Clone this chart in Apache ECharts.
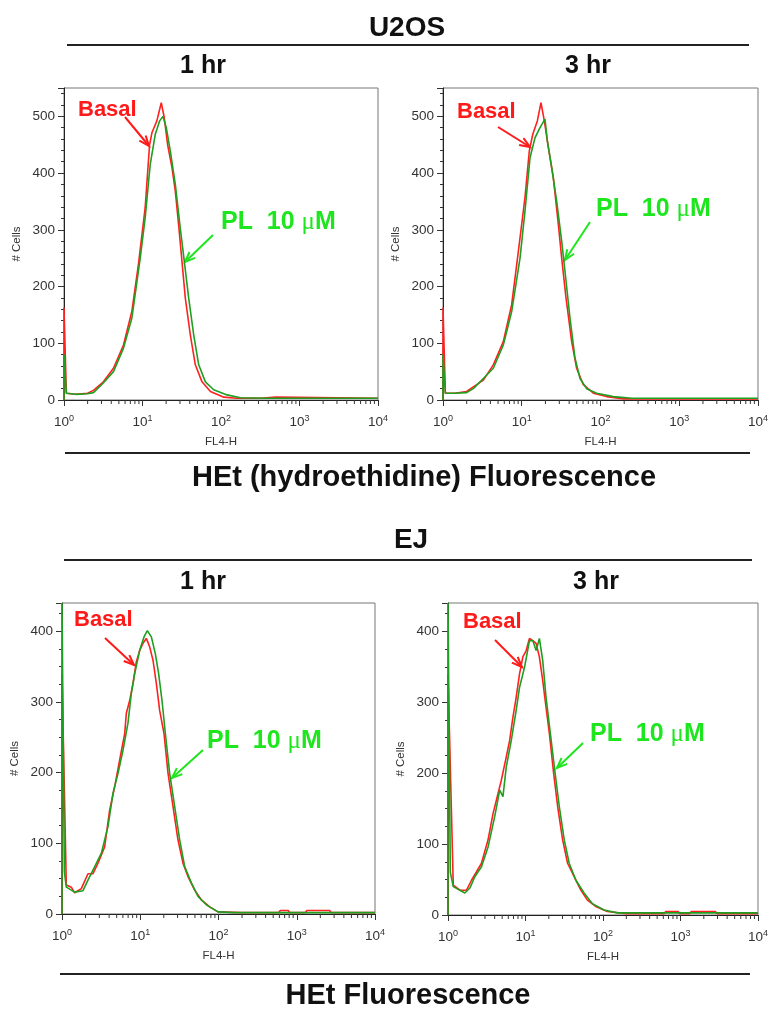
<!DOCTYPE html>
<html>
<head>
<meta charset="utf-8">
<title>HEt fluorescence</title>
<script src="https://cdn.jsdelivr.net/npm/echarts@6/dist/echarts.min.js"></script>
<style>
    html, body { margin: 0; padding: 0; background: #fff; }
    #chart { width: 771px; height: 1010px; }
</style>
</head>
<body>
<div id="chart"></div>
<script>
/* ========== 数据 (x = log10 FL4-H, 0..4 decades; y = # cells) ========== */

const xTickLabels = ["0", "1", "2", "3", "4"];

// U2OS 1 hr
const u2os1hBasalX = [0, 0, 0.03, 0.15, 0.3, 0.375, 0.502, 0.63, 0.758, 0.864, 0.949, 1.034, 1.09, 1.12, 1.183, 1.239, 1.277, 1.32, 1.375, 1.418, 1.46, 1.503, 1.545, 1.609, 1.673, 1.758, 1.865, 2.035, 2.2, 2.5, 2.52, 2.7, 2.72, 4];
const u2os1hBasalY = [0, 163, 12, 10, 12, 17, 32, 56, 97, 156, 240, 339, 450, 471, 492, 524, 498, 450, 410, 368, 309, 244, 180, 115, 62, 32, 15, 5, 3, 3, 5, 5, 3, 3];
const u2os1hPlX = [0, 0, 0.03, 0.15, 0.3, 0.375, 0.5, 0.63, 0.757, 0.864, 0.971, 1.034, 1.098, 1.162, 1.218, 1.26, 1.303, 1.354, 1.418, 1.481, 1.533, 1.588, 1.652, 1.716, 1.801, 1.907, 2.077, 2.248, 2.6, 4];
const u2os1hPlY = [0, 80, 12, 10, 11, 13, 30, 50, 91, 144, 250, 321, 415, 468, 492, 500, 480, 439, 380, 303, 244, 180, 115, 62, 32, 18, 9, 4, 3, 3];

// U2OS 3 hr
const u2os3hBasalX = [0, 0, 0.03, 0.15, 0.3, 0.385, 0.512, 0.639, 0.766, 0.872, 0.957, 1.041, 1.096, 1.139, 1.198, 1.244, 1.287, 1.338, 1.401, 1.465, 1.507, 1.562, 1.634, 1.697, 1.782, 1.909, 2.078, 2.3, 4];
const u2os3hBasalY = [0, 163, 12, 12, 15, 23, 35, 62, 103, 168, 262, 357, 439, 468, 492, 524, 492, 445, 392, 309, 250, 180, 103, 56, 27, 12, 6, 2, 2];
const u2os3hPlX = [0, 0, 0.03, 0.15, 0.3, 0.385, 0.512, 0.639, 0.766, 0.872, 0.978, 1.041, 1.105, 1.168, 1.232, 1.295, 1.325, 1.38, 1.443, 1.507, 1.549, 1.613, 1.676, 1.74, 1.824, 1.951, 2.163, 2.4, 4];
const u2os3hPlY = [0, 80, 12, 12, 13, 20, 38, 56, 97, 156, 250, 333, 427, 462, 480, 495, 457, 410, 351, 280, 227, 144, 74, 38, 20, 12, 6, 3, 3];

// EJ 1 hr
const ej1hBasalX = [0, 0, 0.055, 0.119, 0.162, 0.247, 0.332, 0.396, 0.46, 0.545, 0.609, 0.673, 0.737, 0.801, 0.822, 0.865, 0.907, 0.95, 0.993, 1.035, 1.078, 1.12, 1.163, 1.206, 1.248, 1.304, 1.355, 1.419, 1.482, 1.546, 1.61, 1.695, 1.781, 1.887, 1.994, 2.3, 2.77, 2.79, 2.89, 2.91, 3.11, 3.13, 3.42, 3.44, 4];
const ej1hBasalY = [0, 340, 41, 38, 30, 36, 57, 57, 72, 95, 147, 180, 218, 255, 284, 302, 326, 357, 373, 383, 390, 378, 359, 326, 288, 255, 199, 152, 105, 72, 53, 34, 20, 10, 3, 2, 2, 5, 5, 2, 2, 5, 5, 2, 2];
const ej1hPlX = [0, 0, 0.03, 0.055, 0.162, 0.268, 0.332, 0.418, 0.503, 0.588, 0.652, 0.716, 0.78, 0.843, 0.886, 0.929, 0.993, 1.048, 1.09, 1.142, 1.193, 1.235, 1.278, 1.321, 1.376, 1.44, 1.504, 1.568, 1.653, 1.738, 1.845, 1.994, 2.2, 4];
const ej1hPlY = [0, 440, 60, 38, 31, 33, 48, 67, 86, 124, 171, 199, 232, 270, 312, 340, 373, 392, 401, 392, 368, 340, 302, 255, 199, 152, 105, 67, 44, 25, 13, 3, 2, 2];

// EJ 3 hr
const ej3hBasalX = [0, 0, 0.068, 0.154, 0.239, 0.303, 0.368, 0.432, 0.517, 0.581, 0.645, 0.688, 0.752, 0.795, 0.838, 0.88, 0.923, 0.966, 1.009, 1.051, 1.094, 1.137, 1.179, 1.222, 1.265, 1.308, 1.363, 1.415, 1.479, 1.543, 1.628, 1.714, 1.799, 1.906, 2.056, 2.3, 2.79, 2.81, 2.97, 2.99, 3.12, 3.14, 3.45, 3.47, 4];
const ej3hBasalY = [0, 340, 42, 35, 35, 49, 61, 73, 106, 143, 171, 190, 223, 246, 279, 307, 340, 364, 373, 390, 387, 383, 364, 331, 293, 256, 200, 153, 106, 73, 54, 35, 21, 12, 5, 2, 2, 5, 5, 2, 2, 5, 5, 2, 2];
const ej3hPlX = [0, 0, 0.03, 0.068, 0.154, 0.218, 0.282, 0.346, 0.432, 0.517, 0.603, 0.667, 0.709, 0.752, 0.816, 0.88, 0.923, 0.987, 1.051, 1.094, 1.137, 1.179, 1.222, 1.265, 1.321, 1.372, 1.436, 1.5, 1.564, 1.65, 1.756, 1.863, 2.013, 2.184, 2.5, 4];
const ej3hPlY = [0, 440, 60, 40, 35, 31, 38, 54, 68, 96, 139, 176, 167, 209, 246, 289, 321, 349, 387, 387, 373, 390, 359, 307, 256, 209, 153, 106, 73, 49, 31, 16, 7, 3, 3, 3];

/* ========== 样式 ========== */

const FONT = '"Liberation Sans", Arial, sans-serif';
const RED_LINE = "#ff2020";
const GREEN_LINE = "#1f9f1f";
const RED_TEXT = "#ff1a1a";
const GREEN_TEXT = "#1ee61e";

// 对数轴的次刻度 (2..9 每个十倍程)
const minorX = [0, 1, 2, 3].flatMap(d => [2, 3, 4, 5, 6, 7, 8, 9].map(m => d + Math.log10(m)));

const panels = [
    { grid: { left: 64, top: 88, width: 314, height: 312 }, yMax: 550, ySplit: 5, basal: [u2os1hBasalX, u2os1hBasalY], pl: [u2os1hPlX, u2os1hPlY],
      basalTxt: [78, 110], basalArrow: [125, 117, 149, 146], plTxt: [221, 222], plArrow: [213, 235, 185, 262] },
    { grid: { left: 443, top: 88, width: 315, height: 312 }, yMax: 550, ySplit: 5, basal: [u2os3hBasalX, u2os3hBasalY], pl: [u2os3hPlX, u2os3hPlY],
      basalTxt: [457, 112], basalArrow: [498, 127, 530, 147], plTxt: [596, 209], plArrow: [590, 222, 565, 260] },
    { grid: { left: 62, top: 603, width: 313, height: 311 }, yMax: 440, ySplit: 4, basal: [ej1hBasalX, ej1hBasalY], pl: [ej1hPlX, ej1hPlY],
      basalTxt: [74, 620], basalArrow: [105, 638, 134, 665], plTxt: [207, 741], plArrow: [203, 750, 172, 778] },
    { grid: { left: 448, top: 603, width: 312, height: 312 }, yMax: 440, ySplit: 4, basal: [ej3hBasalX, ej3hBasalY], pl: [ej3hPlX, ej3hPlY],
      basalTxt: [463, 622], basalArrow: [495, 640, 522, 667], plTxt: [590, 734], plArrow: [583, 743, 557, 768] },
];

const zip = (xs, ys) => xs.map((x, i) => [x, ys[i]]);

function arrow(x1, y1, x2, y2, color) {
    const a = Math.atan2(y2 - y1, x2 - x1), L = 11, s = 0.38;
    return {
        type: "group",
        children: [
            { type: "line", shape: { x1, y1, x2, y2 }, style: { stroke: color, lineWidth: 2 } },
            {
                type: "polyline",
                shape: { points: [
                    [x2 - L * Math.cos(a - s), y2 - L * Math.sin(a - s)],
                    [x2, y2],
                    [x2 - L * Math.cos(a + s), y2 - L * Math.sin(a + s)],
                ] },
                style: { stroke: color, lineWidth: 2, fill: null },
            },
        ],
    };
}

function title(x, y, text, size) {
    return {
        type: "text", x, y,
        style: { text, fontFamily: FONT, fontWeight: "bold", fontSize: size, fill: "#111", align: "center", verticalAlign: "middle" },
    };
}

function hline(x1, x2, y) {
    return { type: "line", shape: { x1, y1: y, x2, y2: y }, style: { stroke: "#222", lineWidth: 2 } };
}

const grids = [], xAxes = [], yAxes = [], series = [], graphics = [];

panels.forEach((p, i) => {
    grids.push({ ...p.grid, show: true, borderColor: "#777", borderWidth: 1, backgroundColor: "transparent" });
    xAxes.push({
        type: "value", gridIndex: i, min: 0, max: 4, interval: 1,
        name: "FL4-H", nameLocation: "middle", nameGap: 36,
        nameTextStyle: { fontFamily: FONT, fontSize: 11.5, color: "#333" },
        splitLine: { show: false },
        axisLine: { lineStyle: { color: "#222" } },
        axisTick: { length: 6, lineStyle: { color: "#333" } },
        axisLabel: {
            margin: 14,
            formatter: (v) => `{b|10}{s|${xTickLabels[Math.round(v)]}}`,
            rich: {
                b: { fontFamily: FONT, fontSize: 13.5, color: "#333" },
                s: { fontFamily: FONT, fontSize: 9, color: "#333", padding: [0, 0, 8, 0] },
            },
        },
    });
    yAxes.push({
        type: "value", gridIndex: i, min: 0, max: p.yMax, interval: 100,
        name: "# Cells", nameLocation: "middle", nameGap: 41,
        nameTextStyle: { fontFamily: FONT, fontSize: 11.5, color: "#333" },
        splitLine: { show: false },
        axisLine: { show: true, lineStyle: { color: "#222" } },
        axisTick: { show: true, length: 6, lineStyle: { color: "#333" } },
        minorTick: { show: true, splitNumber: p.ySplit, length: 3, lineStyle: { color: "#333" } },
        axisLabel: { fontFamily: FONT, fontSize: 13.5, color: "#333", margin: 9, showMaxLabel: false },
    });
    series.push({
        type: "line", xAxisIndex: i, yAxisIndex: i, data: zip(...p.basal),
        showSymbol: false, lineStyle: { color: RED_LINE, width: 1.6 }, z: 3,
    });
    series.push({
        type: "line", xAxisIndex: i, yAxisIndex: i, data: zip(...p.pl),
        showSymbol: false, lineStyle: { color: GREEN_LINE, width: 1.6 }, z: 4,
    });
    series.push({
        type: "custom", xAxisIndex: i, yAxisIndex: i, silent: true, clip: false,
        data: minorX.map(v => [v, 0]),
        renderItem: (params, api) => {
            const c = api.coord([api.value(0), 0]);
            return { type: "line", shape: { x1: c[0], y1: c[1], x2: c[0], y2: c[1] + 4 }, style: { stroke: "#333", lineWidth: 1 } };
        },
    });

    graphics.push({
        type: "text", x: p.basalTxt[0], y: p.basalTxt[1],
        style: { text: "Basal", fontFamily: FONT, fontWeight: "bold", fontSize: 22, fill: RED_TEXT, align: "left", verticalAlign: "middle" },
    });
    graphics.push(arrow(...p.basalArrow, RED_TEXT));
    graphics.push({
        type: "text", x: p.plTxt[0], y: p.plTxt[1],
        style: {
            text: "{a|PL  10 }{m|μ}{a|M}", align: "left", verticalAlign: "middle",
            rich: {
                a: { fontFamily: FONT, fontWeight: "bold", fontSize: 25, fill: GREEN_TEXT },
                m: { fontFamily: '"Liberation Serif", serif', fontSize: 25, fill: GREEN_TEXT },
            },
        },
    });
    graphics.push(arrow(...p.plArrow, GREEN_TEXT));
});

graphics.push(
    title(407, 28, "U2OS", 28),
    hline(67, 749, 45),
    title(203, 66, "1 hr", 25),
    title(588, 66, "3 hr", 25),
    hline(65, 750, 453),
    title(424, 478, "HEt (hydroethidine) Fluorescence", 29),
    title(411, 540, "EJ", 28),
    hline(64, 752, 560),
    title(203, 582, "1 hr", 25),
    title(596, 582, "3 hr", 25),
    hline(60, 750, 974),
    title(408, 996, "HEt Fluorescence", 29),
);

const chart = echarts.init(document.getElementById("chart"), null, { renderer: "canvas" });
chart.setOption({
    animation: false,
    backgroundColor: "#fff",
    grid: grids,
    xAxis: xAxes,
    yAxis: yAxes,
    series,
    graphic: graphics,
});
</script>
</body>
</html>
